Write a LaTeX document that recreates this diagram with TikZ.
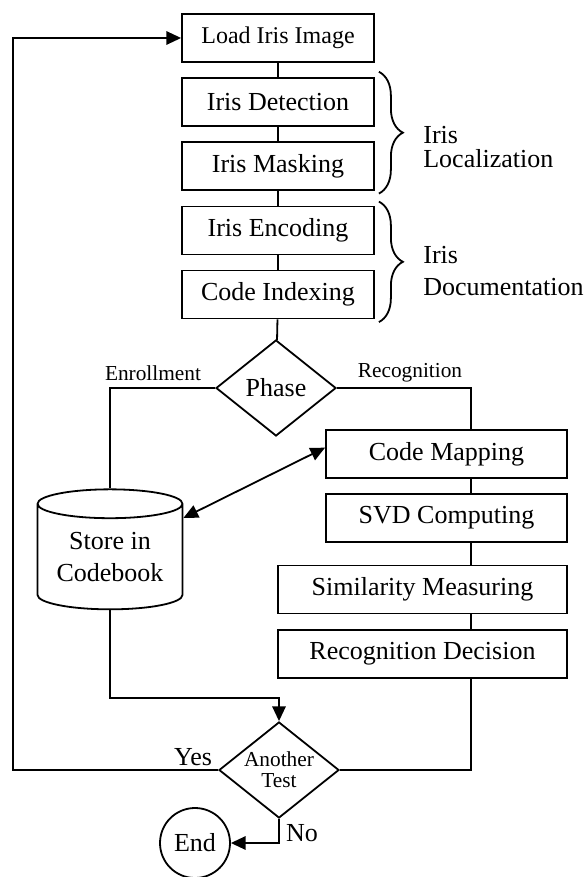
\documentclass[tikz,border=0pt]{standalone}
\usepackage{fontspec}
\setmainfont{Liberation Serif}
\usetikzlibrary{shapes.geometric,arrows.meta,decorations.pathreplacing}
\tikzstyle{process}=[draw,rectangle,inner sep=0pt,minimum height=36pt,font=\fontsize{19.5}{23.4}\selectfont]
\tikzstyle{decision}=[draw,diamond,aspect=1.25,inner sep=0pt,align=center,minimum width=90pt,minimum height=72pt]
\tikzstyle{store}=[draw,cylinder,shape border rotate=90,aspect=0.27,inner sep=0pt,align=center,minimum width=108.75pt,minimum height=90pt,font=\fontsize{19.5}{24}\selectfont]
\tikzstyle{terminal}=[draw,circle,inner sep=0pt,minimum size=52.5pt,font=\fontsize{19.5}{23.4}\selectfont]
\tikzstyle{tag}=[font=\fontsize{16}{16}\selectfont]
\tikzstyle{big}=[font=\fontsize{19.5}{23.4}\selectfont]
\tikzstyle{flow}=[-{Triangle[length=11pt,width=10pt]}]
\tikzstyle{twoway}=[{Triangle[length=11pt,width=10pt]}-{Triangle[length=11pt,width=10pt]}]
\tikzstyle{group}=[decorate,decoration={brace,amplitude=18pt}]

\begin{document}
\begin{tikzpicture}[x=0.75pt,y=-0.75pt,line width=1.35pt]
                  \useasboundingbox (0,0) rectangle (585,877);

                  \node (load) at (278,38) [process,minimum width=144pt,font=\fontsize{18}{21}\selectfont] {Load Iris Image};
                  \node (det) at (278,102) [process,minimum width=144pt] {Iris Detection};
                  \node (mask) at (278,166) [process,minimum width=144pt] {Iris Masking};
                  \node (enc) at (278,230.5) [process,minimum width=144pt] {Iris Encoding};
                  \node (idx) at (278,294.5) [process,minimum width=144pt] {Code Indexing};

                  \node (phase) at (276,388) [decision,big] {Phase};
                  \node (enr) at (153,373) [tag] {Enrollment};
                  \node (rec) at (410,373) [tag] {Recognition};

                  \node (db) at (110,557) [store] {Store in\\Codebook};

                  \node (cm) at (446.5,454) [process,minimum width=180.75pt] {Code Mapping};
                  \node (svd) at (446.5,518) [process,minimum width=180.75pt] {SVD Computing};
                  \node (sim) at (422.5,589.5) [process,minimum width=216.75pt] {Similarity Measuring};
                  \node (rd) at (422.5,654) [process,minimum width=216.75pt] {Recognition Decision};

                  \node (test) at (279,770) [decision,tag] {Another\\Test};
                  \node (yes) at (193,757) [big] {Yes};
                  \node (no) at (302,833) [big] {No};
                  \node (end) at (195,843) [terminal] {End};

                  \node (loc) at (418,147) [anchor=west,align=left,big] {Iris\\[-5pt]Localization};
                  \node (doc) at (418,271) [anchor=west,align=left,big] {Iris\\Documentation};

                  \coordinate (rx) at (471,0);
                  \coordinate (loopc) at (13,38);
                  \coordinate (jn) at (279,698);

                  \draw (load) -- (det);
                  \draw (det) -- (mask);
                  \draw (mask) -- (enc);
                  \draw (enc) -- (idx);
                  \draw (idx) -- (phase);

                  \draw (phase.west) -| (db.north);
                  \draw (phase.east) -| (rx |- cm.north);
                  \draw (rx |- cm.south) -- (rx |- svd.north);
                  \draw (rx |- svd.south) -- (rx |- sim.north);
                  \draw (rx |- sim.south) -- (rx |- rd.north);
                  \draw (rx |- rd.south) |- (test.east);

                  \draw [twoway] (db.28) -- (cm.177);
                  \draw [flow] (db.south) |- (jn) -- (test.north);
                  \draw [flow] (test.west) -| (loopc) -- (load.west);
                  \draw [flow] (test.south) |- (end.east);

                  \draw [group] ([xshift=3pt,yshift=4pt]det.north east) -- ([xshift=3pt,yshift=-2pt]mask.south east);
                  \draw [group] ([xshift=3pt,yshift=3pt]enc.north east) -- ([xshift=3pt,yshift=-2pt]idx.south east);
\end{tikzpicture}
\end{document}
